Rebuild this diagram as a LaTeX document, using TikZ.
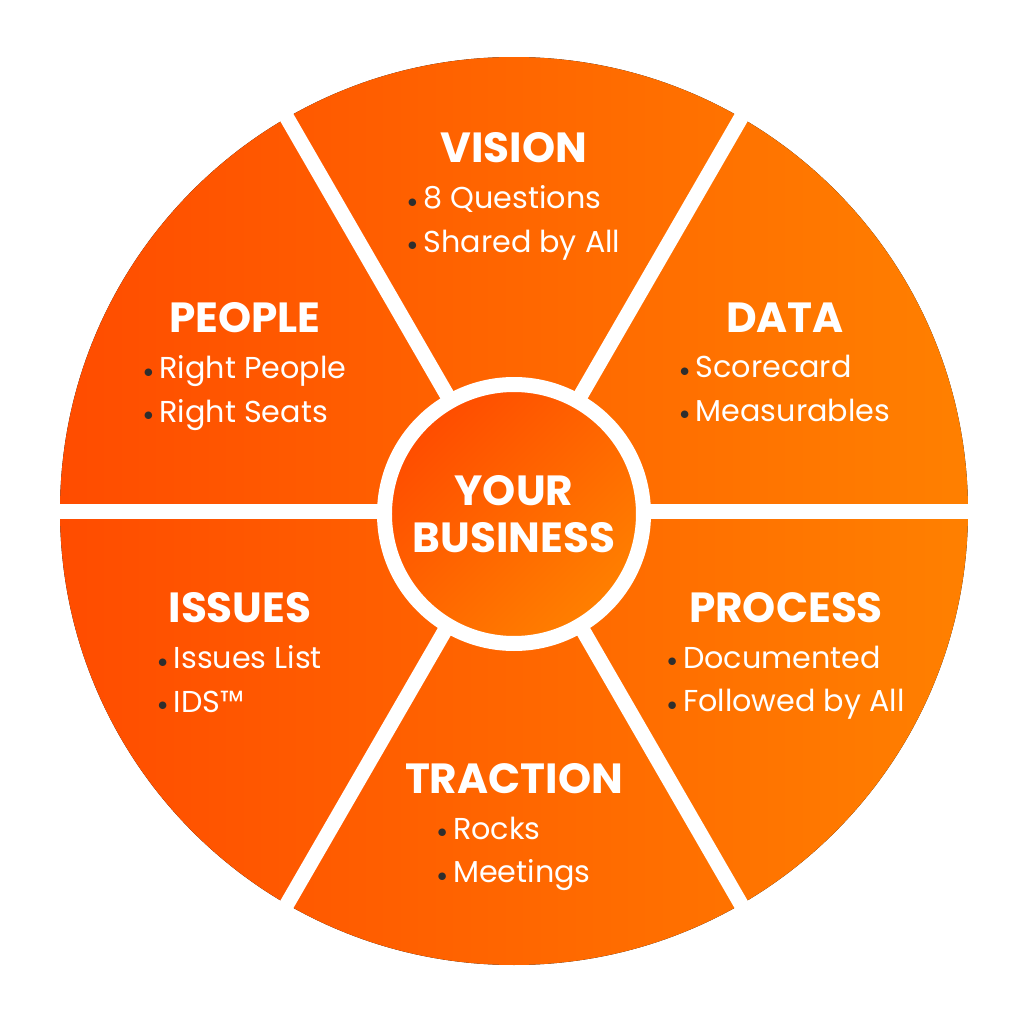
\documentclass[tikz,border=0pt]{standalone}
\usepackage{fontspec}
\setmainfont{Poppins}
\usetikzlibrary{positioning}

\definecolor{wheelred}{HTML}{FF4C00}
\definecolor{wheelorange}{HTML}{FF8000}
\definecolor{bulletgray}{HTML}{2E2E2E}

\newcommand{\bul}{\textcolor{bulletgray}{\raisebox{0.1ex}{\scalebox{0.6}{$\bullet$}}}\hspace{0.2em}}

\begin{document}
\begin{tikzpicture}[
    node distance=6pt,
    ttl/.style={text=white, inner sep=0pt, font=\bfseries\fontsize{12}{14}\selectfont},
    items/.style={text=white, inner sep=0pt, align=left, font=\fontsize{8.6}{12.5}\selectfont},
    spoke/.style={white, line width=0.15cm},
    hub/.style={circle, draw=white, line width=0.15cm, minimum size=2.59cm, inner sep=0pt,
        top color=wheelred, bottom color=wheelorange, shading angle=45,
        text=white, align=center, font=\bfseries\fontsize{12}{13.4}\selectfont}]
    \useasboundingbox (-5.14,-5.13) rectangle (5.10,5.11);

    % wheel and spokes
    \fill[left color=wheelred, right color=wheelorange] (0,0) circle (4.54);
    \coordinate (c) at (0,0);
    \foreach \a in {0,60,...,300}
        \draw[spoke] (c) -- (\a:4.7);
    \node[hub] (business) at (0,-0.03) {YOUR\\BUSINESS};

    % segments
    \node[ttl] (vision) at (0,3.63) {VISION};
    \node[items, below=of vision] (visionlist) {\bul 8 Questions\\\bul Shared by All};

    \node[ttl] (people) at (-2.69,1.93) {PEOPLE};
    \node[items, below=of people] (peoplelist) {\bul Right People\\\bul Right Seats};

    \node[ttl] (data) at (2.71,1.93) {DATA};
    \node[items, below=of data] (datalist) {\bul Scorecard\\\bul Measurables};

    \node[ttl] (issues) at (-2.74,-0.97) {ISSUES};
    \node[items, below=of issues] (issueslist) {\bul Issues List\\\bul IDS™};

    \node[ttl] (process) at (2.72,-0.97) {PROCESS};
    \node[items, below=of process] (processlist) {\bul Documented\\\bul Followed by All};

    \node[ttl] (traction) at (0,-2.68) {TRACTION};
    \node[items, below=of traction] (tractionlist) {\bul Rocks\\\bul Meetings};
\end{tikzpicture}
\end{document}
